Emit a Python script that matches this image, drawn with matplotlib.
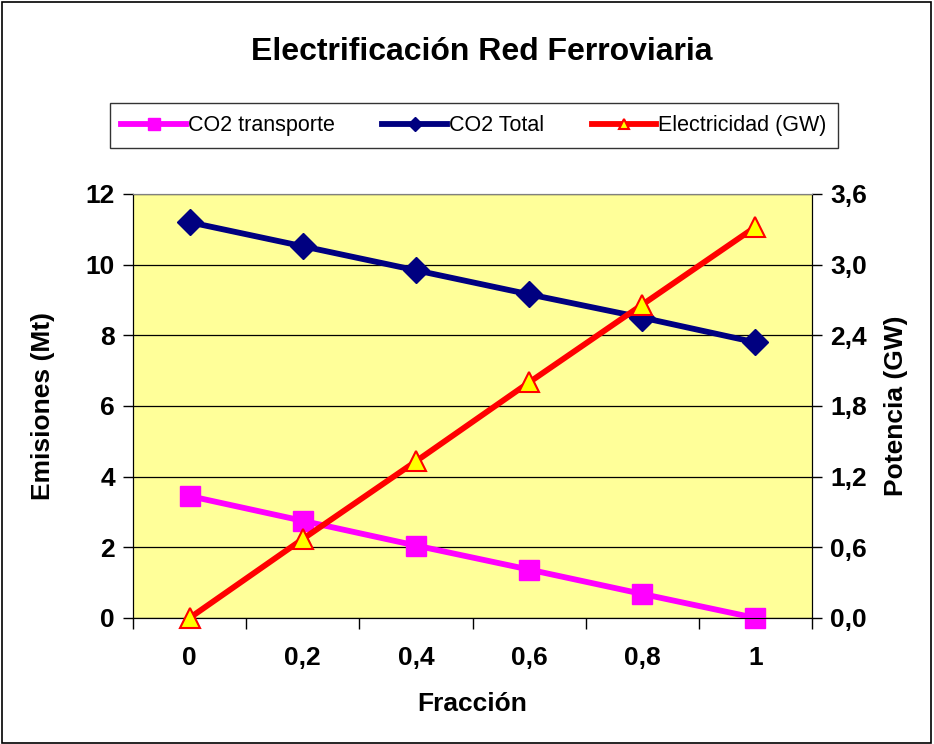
import numpy as np
import matplotlib.pyplot as plt
from matplotlib.patches import Rectangle
from matplotlib.ticker import FixedLocator, FuncFormatter

plt.rcParams['font.family'] = ['Liberation Sans', 'DejaVu Sans']

# Data
fraccion = ['0', '0,2', '0,4', '0,6', '0,8', '1']
co2_transporte = [3.45, 2.75, 2.05, 1.37, 0.68, 0.0]
co2_total = [11.2, 10.52, 9.84, 9.16, 8.5, 7.8]
electricidad = [0.0, 0.67, 1.33, 2.0, 2.66, 3.32]

x = np.arange(len(fraccion))

fig = plt.figure(figsize=(9.34, 7.44), dpi=100)
fig.patches.append(Rectangle((0.002, 0.002), 0.995, 0.995, transform=fig.transFigure,
                             fill=False, edgecolor='black', linewidth=1.2))

ax = fig.add_axes([0.1424, 0.1694, 0.727, 0.5699])
ax.set_facecolor('#FFFF99')
ax2 = ax.twinx()

l1, = ax.plot(x, co2_transporte, color='#FF00FF', lw=4.2, marker='s', ms=14.5,
              label='CO2 transporte', zorder=3, clip_on=False)
l2, = ax.plot(x, co2_total, color='#000080', lw=4.2, marker='D', ms=13.5,
              label='CO2 Total', zorder=3)
l3, = ax2.plot(x, electricidad, color='#FF0000', lw=4.2, marker='^', ms=14,
               mfc='#FFFF00', mec='#FF0000', mew=1.5, label='Electricidad (GW)',
               zorder=3, clip_on=False)

ax.set_xlim(-0.5, 5.5)
ax.set_ylim(0, 12)
ax2.set_ylim(0, 3.6)
ax.set_yticks(np.arange(0, 13, 2))
ax2.set_yticks(np.arange(0, 3.7, 0.6))
ax2.yaxis.set_major_formatter(FuncFormatter(lambda v, p: f'{v:.1f}'.replace('.', ',')))

ax.set_xticks(x)
ax.set_xticklabels(fraccion)
ax.xaxis.set_minor_locator(FixedLocator(np.arange(-0.5, 5.6, 1)))
ax.tick_params(axis='x', which='major', length=0, pad=20, labelsize=19)
ax.tick_params(axis='x', which='minor', length=8, width=1, direction='out')
ax.tick_params(axis='y', length=7, width=1, direction='out', pad=6, labelsize=19)
ax2.tick_params(axis='y', length=7, width=1, direction='out', pad=6, labelsize=19)
for lab in ax.get_xticklabels() + ax.get_yticklabels() + ax2.get_yticklabels():
    lab.set_fontweight('bold')

ax.grid(axis='y', color='black', lw=0.9)
ax.set_axisbelow(True)
for a in (ax, ax2):
    a.spines['top'].set_color('#808080')
    a.spines['left'].set_color('black')
    a.spines['right'].set_color('black')
    a.spines['bottom'].set_color('black')

ax.set_xlabel('Fracción', fontsize=19, fontweight='bold', labelpad=16)
ax.set_ylabel('Emisiones (Mt)', fontsize=19, fontweight='bold', labelpad=22)
ax2.set_ylabel('Potencia (GW)', fontsize=19, fontweight='bold', labelpad=12)

fig.text(0.5155, 0.93, 'Electrificación Red Ferroviaria', ha='center', va='center',
         fontsize=23, fontweight='bold')

leg = fig.legend(handles=[l1, l2, l3], loc='center', bbox_to_anchor=(0.5075, 0.831),
                 ncol=3, fontsize=15.5, frameon=True, fancybox=False, edgecolor='black',
                 handlelength=3.0, handletextpad=0.1, columnspacing=2.2, borderpad=0.55,
                 markerscale=0.55)
leg.get_frame().set_linewidth(1.0)

fig.savefig('out.png', dpi=100)
